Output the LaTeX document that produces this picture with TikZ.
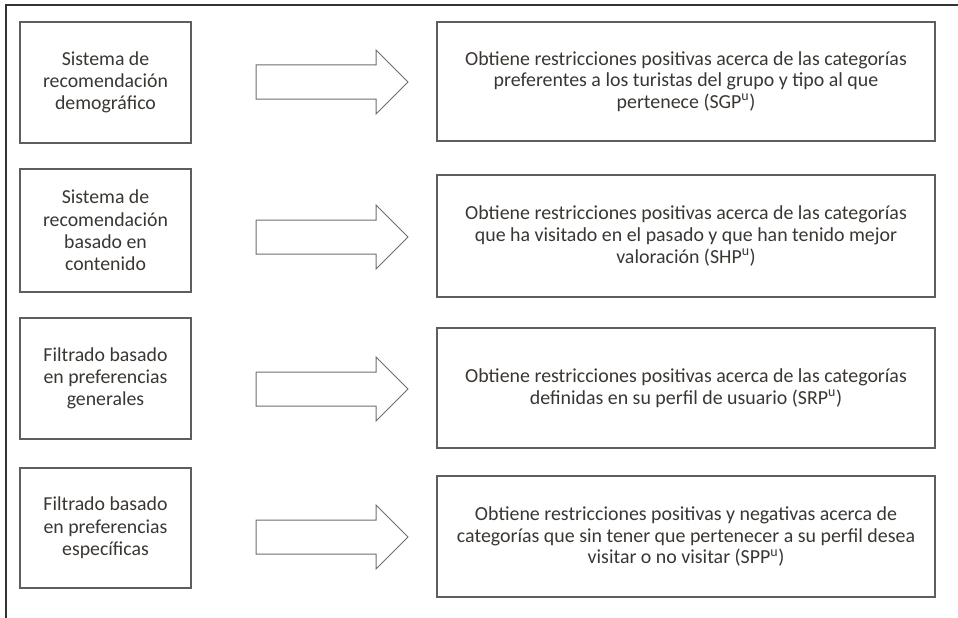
\documentclass[tikz,border=0pt]{standalone}
\usepackage{fontspec}
\setmainfont{Carlito}
\definecolor{txt}{HTML}{3A3632}
\definecolor{boxline}{HTML}{5E5E5E}
\definecolor{arrline}{HTML}{6E6E6E}
\tikzset{
  leftbox/.style={draw=boxline, line width=1.3pt, minimum width=171pt, inner sep=0pt, align=center, text=txt, font=\fontsize{19.8}{22.3}\selectfont},
  rightbox/.style={draw=boxline, line width=1.3pt, minimum width=498pt, inner sep=0pt, align=center, text=txt, font=\fontsize{19.9}{21.7}\selectfont},
  arrowshape/.style={draw=arrline, fill=white, line width=1pt, line join=miter},
  frameline/.style={draw=black!80, line width=1.2pt}
}
\begin{document}
\begin{tikzpicture}[x=1pt, y=-1pt]
\useasboundingbox (0,0) rectangle (958,618);
\coordinate (ftr) at (958,5);
\coordinate (ftl) at (6,5);
\coordinate (fbl) at (6,618);
\draw[frameline] (ftr) -- (ftl) -- (fbl);

\node[leftbox, minimum height=121pt] (l1) at (105.5,82.5) {Sistema de\\recomendación\\demográfico};
\node[leftbox, minimum height=123pt] (l2) at (105.5,230.5) {Sistema de\\recomendación\\basado en\\contenido};
\node[leftbox, minimum height=121pt] (l3) at (105.5,378.5) {Filtrado basado\\en preferencias\\generales};
\node[leftbox, minimum height=120pt] (l4) at (105.5,528) {Filtrado basado\\en preferencias\\específicas};

\node[rightbox, minimum height=119pt] (r1) at (686,81.5) {Obtiene restricciones positivas acerca de las categorías\\preferentes a los turistas del grupo y tipo al que\\pertenece (SGP\textsuperscript{u})};
\node[rightbox, minimum height=122pt] (r2) at (686,236) {Obtiene restricciones positivas acerca de las categorías\\que ha visitado en el pasado y que han tenido mejor\\valoración (SHP\textsuperscript{u})};
\node[rightbox, minimum height=120pt] (r3) at (686,388) {Obtiene restricciones positivas acerca de las categorías\\definidas en su perfil de usuario (SRP\textsuperscript{u})};
\node[rightbox, minimum height=121pt] (r4) at (686,536.5) {Obtiene restricciones positivas y negativas acerca de\\categorías que sin tener que pertenecer a su perfil desea\\visitar o no visitar (SPP\textsuperscript{u})};

\foreach \c/\n in {82/a1,237/a2,389/a3,537/a4}{
  \draw[arrowshape] (256,{\c-17}) coordinate (\n s) -- (376,{\c-17}) -- (376,{\c-32})
    -- (408,\c) coordinate (\n t) -- (376,{\c+32}) -- (376,{\c+17}) -- (256,{\c+17}) -- cycle;
}
\end{tikzpicture}
\end{document}
